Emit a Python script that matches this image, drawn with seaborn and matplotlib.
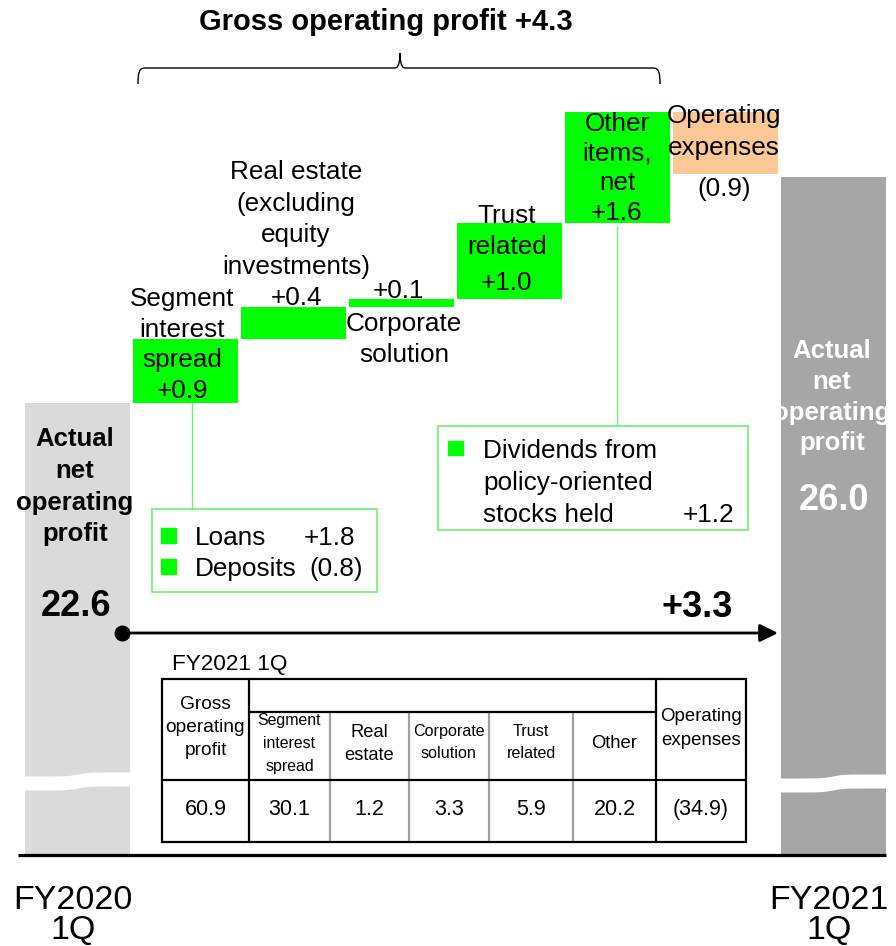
import numpy as np
import pandas as pd
import matplotlib
matplotlib.use("Agg")
import matplotlib.pyplot as plt
import matplotlib.transforms as mtransforms
from matplotlib.path import Path
from matplotlib.patches import PathPatch, Rectangle
import seaborn as sns

# ---------------- data ----------------
categories = ["FY2020 1Q", "Segment interest spread", "Real estate", "Corporate solution",
              "Trust related", "Other items, net", "Operating expenses", "FY2021 1Q"]
start_value = 22.6
end_value = 26.0
deltas = [0.96, 0.48, 0.12, 1.14, 1.68, -0.93]          # bar heights
delta_labels = ["+0.9", "+0.4", "+0.1", "+1.0", "+1.6", "(0.9)"]
bar_names = [["Segment", "interest", "spread"],
             ["Real estate", "(excluding", "equity", "investments)"],
             ["Corporate", "solution"],
             ["Trust", "related"],
             ["Other", "items,", "net"],
             ["Operating", "expenses"]]
end_bar_name = ["Actual", "net", "operating", "profit"]
start_label = "22.6"
end_label = "26.0"
gross_title = "Gross operating profit +4.3"
net_change_label = "+3.3"
x_labels = ["FY2020\n1Q", "FY2021\n1Q"]
table_caption = "FY2021 1Q"
table_headers = [["Gross", "operating", "profit"], ["Segment", "interest", "spread"],
                 ["Real", "estate"], ["Corporate", "solution"], ["Trust", "related"],
                 ["Other"], ["Operating", "expenses"]]
table_values = ["60.9", "30.1", "1.2", "3.3", "5.9", "20.2", "(34.9)"]
loan_items = ["Loans", "Deposits"]
loan_values = ["+1.8", "(0.8)"]
dividend_lines = ["Dividends from", "policy-oriented", "stocks held"]
dividend_value = "+1.2"

# ---------------- colours ----------------
GREEN = "#00ff00"
ORANGE = "#fbc896"
LIGHT_GRAY = "#dadada"
DARK_GRAY = "#a6a6a6"
BOX_GREEN = "#70f070"
FONT = "Liberation Sans"

# ---------------- layout ----------------
W, H = 896, 946
S = 66.5          # pixels per unit
P_REF = 403       # pixel row of start value
BASE_PX = 855     # broken-axis floor row


def v(p):
    return start_value + (P_REF - p) / S


BASE = v(BASE_PX)

sns.set_style("white")
plt.rcParams["font.family"] = [FONT, "DejaVu Sans"]

fig = plt.figure(figsize=(W / 100, H / 100), dpi=100)
ax = fig.add_axes([0, 0, 1, 1])
px = mtransforms.Affine2D().scale(1 / W, -1 / H).translate(0, 1) + fig.transFigure

# waterfall table
cum = start_value + np.cumsum(deltas)
prev = np.concatenate([[start_value], cum[:-1]])
bottoms = [BASE] + list(np.minimum(prev, cum)) + [BASE]
heights = [start_value - BASE] + list(np.abs(deltas)) + [end_value - BASE]
df = pd.DataFrame({"category": categories, "height": heights, "bottom": bottoms})
colors = [LIGHT_GRAY] + [GREEN] * 5 + [ORANGE] + [DARK_GRAY]

sns.barplot(data=df, x="category", y="height", order=categories,
            bottom=df["bottom"].to_numpy(), width=0.972, color="gray",
            saturation=1, errorbar=None, linewidth=0, ax=ax)
for patch, c in zip(ax.patches, colors):
    patch.set_facecolor(c)
    patch.set_edgecolor("none")

ax.set_xlim(-77.5 / 108, (W - 77.5) / 108)
ax.set_ylim(v(H), v(0))
ax.set_axis_off()


def T(x, y, s, size, bold=False, color="black", ha="center", zorder=5):
    fig.text(x, y, s, transform=px, fontsize=size, color=color, ha=ha, va="baseline",
             fontweight="bold" if bold else "normal", family=FONT, zorder=zorder)


# break marks on the two end bars
for x0, x1, dy in [(24, 131, -1), (778, 887, 1)]:
    xs = np.linspace(x0, x1, 60)
    t = 1 / (1 + np.exp(-(xs - (x0 + x1) / 2) / 5))
    top = 777 + dy - 4 * t
    bot = 791 + dy - 4 * t
    ax.fill_between(xs, top, bot, transform=px, color="white", lw=0, zorder=3)

# baseline
ax.plot([18, 886], [855, 855], transform=px, color="black", lw=2.3, zorder=4,
        solid_capstyle="butt")

# title and brace
T(386, 30, gross_title, 21, bold=True)
verts = [(138, 84), (138, 73), (139, 68), (145, 68), (395, 68), (399, 68), (400, 60), (400, 53),
         (400, 60), (401, 68), (405, 68), (653, 68), (659, 68), (660, 73), (660, 84)]
codes = [Path.MOVETO, Path.CURVE4, Path.CURVE4, Path.CURVE4, Path.LINETO,
         Path.CURVE4, Path.CURVE4, Path.CURVE4, Path.CURVE4, Path.CURVE4, Path.CURVE4,
         Path.LINETO, Path.CURVE4, Path.CURVE4, Path.CURVE4]
ax.add_patch(PathPatch(Path(verts, codes), transform=px, fill=False, lw=1.0,
                       edgecolor="black", zorder=5))

# bar labels
LS = 18.8
# segment interest spread
for s_, y_ in zip(bar_names[0] + [delta_labels[0]], [306, 337, 367, 398]):
    T(182, y_, s_, LS)
# real estate
for s_, y_ in zip(bar_names[1] + [delta_labels[1]], [179, 211, 242, 274, 305]):
    T(296, y_, s_, LS)
# corporate solution
T(399, 298, delta_labels[2], LS)
for s_, y_ in zip(bar_names[2], [331, 362]):
    T(404, y_, s_, LS)
# trust related
for s_, y_ in zip(bar_names[3] + [delta_labels[3]], [223, 254, 290]):
    T(507, y_, s_, LS)
# other items
for s_, y_ in zip(bar_names[4] + [delta_labels[4]], [131, 161, 190, 220]):
    T(617, y_, s_, LS)
# operating expenses
for s_, y_ in zip(bar_names[5] + [delta_labels[5]], [123, 155, 196]):
    T(724, y_, s_, LS)

# end bars
for s_, y_ in zip(end_bar_name, [446, 478, 510, 541]):
    T(75, y_, s_, 18.5, bold=True)
for s_, y_ in zip(end_bar_name, [358, 389, 420, 450]):
    T(832, y_, s_, 18.5, bold=True, color="white")
T(76, 616, start_label, 26, bold=True)
T(834, 510, end_label, 26, bold=True, color="white")
T(697, 617, net_change_label, 26, bold=True)

# arrow
ax.annotate("", xy=(778, 633), xytext=(122, 633), xycoords=px, textcoords=px,
            arrowprops=dict(arrowstyle="-|>,head_length=0.55,head_width=0.27", lw=2.0,
                            color="black", mutation_scale=20, shrinkA=0, shrinkB=0),
            zorder=6)
ax.plot([122], [633], transform=px, marker="o", ms=10.5, color="black", zorder=7)

# x labels
for x_, lab in [(73, x_labels[0]), (829, x_labels[1])]:
    l1, l2 = lab.split("\n")
    T(x_, 909, l1, 24.5)
    T(x_, 939, l2, 24.5)

# Loans / deposits box
ax.plot([192, 192], [403, 509], transform=px, color=BOX_GREEN, lw=1.0, zorder=4)
ax.add_patch(Rectangle((152, 509), 225, 83, transform=px, fill=False,
                       edgecolor=BOX_GREEN, lw=1.2, zorder=4))
for i, (it, val) in enumerate(zip(loan_items, loan_values)):
    yb = 545 + 31 * i
    ax.add_patch(Rectangle((161, 528 + 31 * i), 15, 15, transform=px, color=GREEN, zorder=5))
    T(195, yb, it, LS, ha="left")
    T(304 if i == 0 else 309, yb, val, LS, ha="left")

# Dividends box
ax.plot([617, 617], [226, 426], transform=px, color=BOX_GREEN, lw=1.0, zorder=4)
ax.add_patch(Rectangle((438, 426), 310, 104, transform=px, fill=False,
                       edgecolor=BOX_GREEN, lw=1.2, zorder=4))
ax.add_patch(Rectangle((448, 441), 15, 14, transform=px, color=GREEN, zorder=5))
for i, s_ in enumerate(dividend_lines):
    T(483, 458 + 32 * i, s_, LS, ha="left")
T(734, 522, dividend_value, LS, ha="right")

# table caption and table
T(172, 670, table_caption, 16.2, ha="left")
L, R, TOP, MID, ROW, BOT = 162, 746, 679, 712, 780, 842
cols = [162, 249, 330, 409, 489, 573, 656, 746]
gray_lw, black_lw = 1.6, 1.6
for xg in cols[2:6]:
    ax.plot([xg, xg], [MID, BOT], transform=px, color="#a0a0a0", lw=gray_lw, zorder=4)
for xb in [cols[1], cols[6]]:
    ax.plot([xb, xb], [TOP, BOT], transform=px, color="black", lw=black_lw, zorder=4)
ax.plot([cols[1], cols[6]], [MID, MID], transform=px, color="black", lw=black_lw, zorder=4)
ax.plot([L, R], [ROW, ROW], transform=px, color="black", lw=black_lw, zorder=4)
ax.add_patch(Rectangle((L, TOP), R - L, BOT - TOP, transform=px, fill=False,
                       edgecolor="black", lw=black_lw, zorder=4))

header_specs = [
    (13.8, [709, 732, 755]),
    (11.4, [725, 748, 771]),
    (13.2, [737, 760]),
    (11.6, [736, 758]),
    (11.6, [736, 758]),
    (13.2, [748]),
    (13.4, [721, 745]),
]
for j, (hdr, (fs, ys)) in enumerate(zip(table_headers, header_specs)):
    xc = (cols[j] + cols[j + 1]) / 2
    for s_, y_ in zip(hdr, ys):
        T(xc, y_, s_, fs)
    T(xc, 815, table_values[j], 15.5)

fig.savefig("out.png", dpi=100)
